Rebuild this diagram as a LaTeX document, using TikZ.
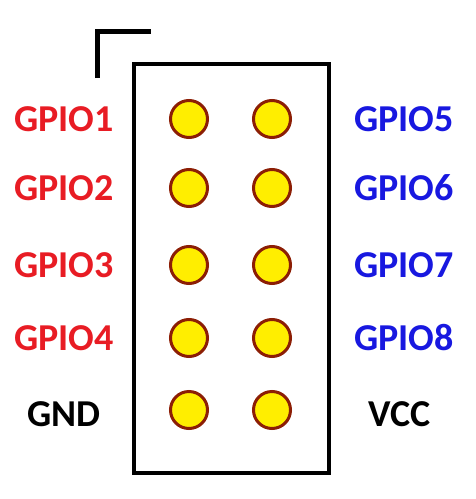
\documentclass[tikz,border=0pt]{standalone}
\usepackage{fontspec}
\setmainfont{Carlito}
\definecolor{lblred}{RGB}{232,28,36}
\definecolor{lblblue}{RGB}{24,24,224}
\definecolor{pinfill}{RGB}{255,238,0}
\definecolor{pinedge}{RGB}{140,30,5}
\begin{document}
\begin{tikzpicture}[x=1pt,y=-1pt,
  pin/.style={circle,minimum size=37pt,inner sep=0pt,fill=pinfill,draw=pinedge,line width=3pt},
  lbl/.style={font=\fontsize{38}{40}\selectfont\bfseries,inner sep=0pt,anchor=center},
  frame/.style={line width=4pt,draw=black}]
\useasboundingbox (0,0) rectangle (475,499);
\draw[frame,fill=white] (134,64) rectangle (329,473);
\draw[frame,line width=5pt] (97,78) -- (97,31) -- (151,31);
\foreach \i/\y in {1/119,2/188,3/265,4/338,5/410}{
  \node[pin] (L\i) at (189,\y) {};
  \node[pin] (R\i) at (272,\y) {};
}
\node[lbl,text=lblred] (g1) at (64,119) {GPIO1};
\node[lbl,text=lblred] (g2) at (64,188) {GPIO2};
\node[lbl,text=lblred] (g3) at (64,265) {GPIO3};
\node[lbl,text=lblred] (g4) at (64,338) {GPIO4};
\node[lbl,text=black] (gnd) at (64,414) {GND};
\node[lbl,text=lblblue] (g5) at (404,119) {GPIO5};
\node[lbl,text=lblblue] (g6) at (404,188) {GPIO6};
\node[lbl,text=lblblue] (g7) at (404,265) {GPIO7};
\node[lbl,text=lblblue] (g8) at (404,338) {GPIO8};
\node[lbl,text=black] (vcc) at (400,414) {VCC};
\end{tikzpicture}
\end{document}
